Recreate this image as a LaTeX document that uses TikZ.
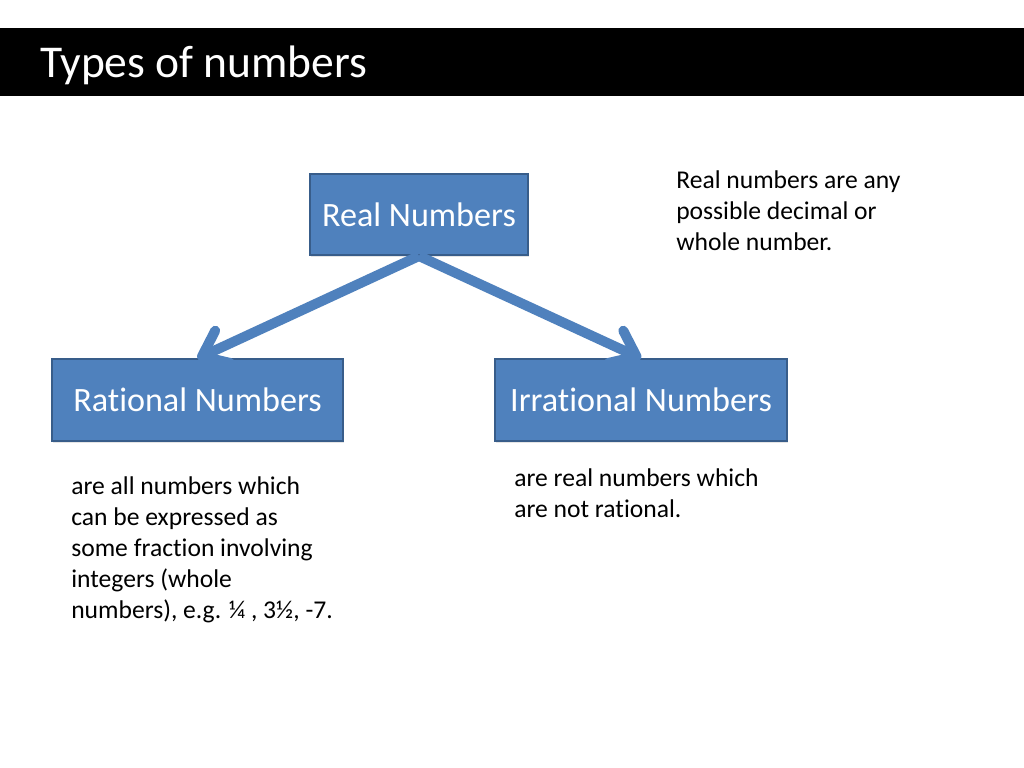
\documentclass[tikz,border=0pt]{standalone}
\usepackage{fontspec}
\setmainfont{Carlito}[RawFeature={-liga;-clig;-calt;-dlig}]
\usetikzlibrary{arrows.meta, positioning, shadows}

\definecolor{boxblue}{HTML}{4F81BD}
\definecolor{boxline}{HTML}{385D8A}

\begin{document}
\begin{tikzpicture}[x=0.703125pt, y=-0.703125pt,
        box/.style={draw=boxline, line width=1.4pt, rectangle, fill=boxblue, text=white, inner sep=0pt,
            minimum height=57pt, font=\fontsize{24}{29}\selectfont,
            drop shadow={opacity=0.2, shadow xshift=0.6pt, shadow yshift=-1.4pt}},
        note/.style={anchor=north west, inner sep=0pt, align=left, font=\fontsize{18}{21.8}\selectfont},
        arrow/.style={boxblue, line width=7pt, -{Straight Barb[length=16pt, width=25pt, round]}}
    ]
        \useasboundingbox (0,0) rectangle (1024,768);
        \fill[white] (0,0) rectangle (1024,768);
        % title bar
        \fill[black] (0,28) rectangle (1024,96);
        \node[anchor=base west, inner sep=0pt, text=white, font=\fontsize{32}{38}\selectfont] (title) at (40,78) {Types of numbers};
        % boxes
        \node[box, minimum width=153.3pt] (real) at (419,214.5) {Real Numbers};
        \node[box, minimum width=204.6pt] (rational) at (197.5,400) {Rational Numbers};
        \node[box, minimum width=205.3pt] (irrational) at (641,400) {Irrational Numbers};
        \draw[arrow] (real.south) -- (rational.north);
        \draw[arrow] (real.south) -- (irrational.north);
        % notes
        \node[note] (realnote) at (676,170) {Real numbers are any\\possible decimal or\\whole number.};
        \node[note] (rationalnote) at (71,476) {are all numbers which\\can be expressed as\\some fraction involving\\integers (whole\\numbers), e.g. ¼ , 3½, -7.};
        \node[note] (irrationalnote) at (514,468) {are real numbers which\\are not rational.};
    \end{tikzpicture}
\end{document}
